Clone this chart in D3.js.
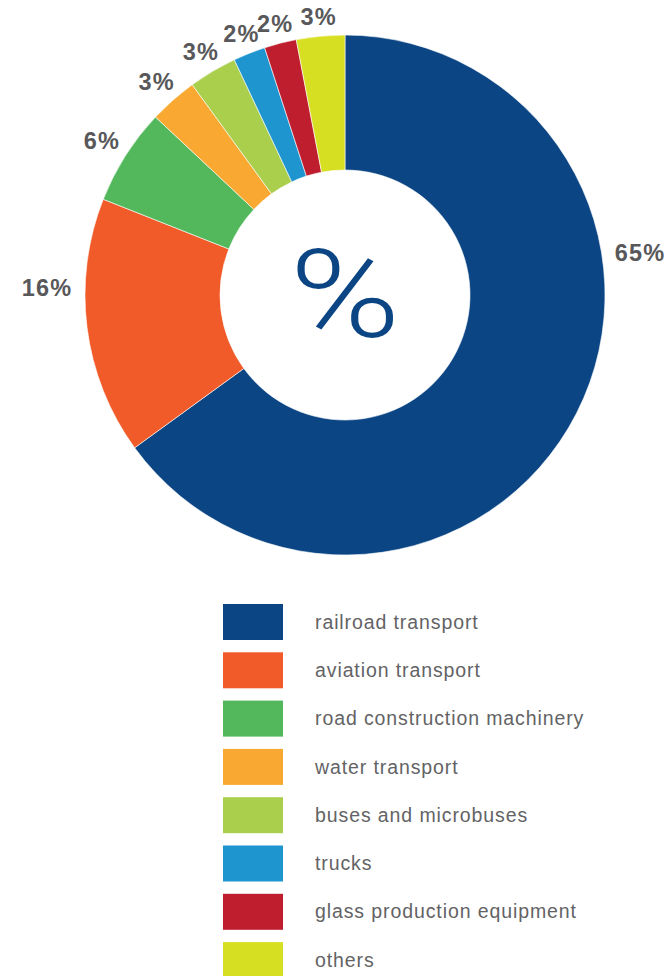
<!DOCTYPE html>
<html>
<head>
<meta charset="utf-8">
<script src="https://cdn.jsdelivr.net/npm/d3@7/dist/d3.min.js"></script>
<style>
  html, body { margin: 0; padding: 0; background: #ffffff; }
  svg { display: block; }
</style>
</head>
<body>
<svg id="chart" width="672" height="976"></svg>
<script>
// Share of each equipment group, in percent
const categories = [
  "railroad transport",
  "aviation transport",
  "road construction machinery",
  "water transport",
  "buses and microbuses",
  "trucks",
  "glass production equipment",
  "others"
];
const values = [65, 16, 6, 3, 3, 2, 2, 3];
const colors = ["#0b4584", "#f15a29", "#52b85b", "#f9a932", "#a9cf4d", "#1f95d0", "#be1e2d", "#d7df23"];
const centerSymbol = "%";

const W = 672, H = 976;
const cx = 345, cy = 295;
const outerR = 260, innerR = 125;

const svg = d3.select("#chart");
const data = categories.map((c, i) => ({ category: c, value: values[i], color: colors[i] }));

const pie = d3.pie().value(d => d.value).sort(null);
const arcs = pie(data);
const arc = d3.arc().innerRadius(innerR).outerRadius(outerR);

const g = svg.append("g").attr("transform", `translate(${cx},${cy})`);

g.selectAll("path.slice")
  .data(arcs)
  .enter().append("path")
  .attr("class", "slice")
  .attr("d", arc)
  .attr("fill", d => d.data.color)
  .attr("stroke", "#ffffff")
  .attr("stroke-width", 0.6);

// Percent labels around the ring. The two wide slices put their label
// beside the ring; the narrow ones sit at the middle of their slice,
// pushed a little further out where the text runs across the radius.
const wideLabelAngle = { 0: 81.8, 1: 271.5 };
const labelAngle = d => d.index in wideLabelAngle
  ? wideLabelAngle[d.index] * Math.PI / 180
  : (d.startAngle + d.endAngle) / 2;
const labelRadius = d => {
  if (d.index in wideLabelAngle) return 298;
  const s = Math.sin(labelAngle(d));
  return 280 + 11 * s * s;
};

g.selectAll("text.pct")
  .data(arcs)
  .enter().append("text")
  .attr("class", "pct")
  .attr("x", d => labelRadius(d) * Math.sin(labelAngle(d)))
  .attr("y", d => -labelRadius(d) * Math.cos(labelAngle(d)) + 8.5)
  .attr("text-anchor", "middle")
  .attr("font-family", "'Liberation Sans', Arial, sans-serif")
  .attr("font-weight", "bold")
  .attr("font-size", 23.5)
  .attr("letter-spacing", 1.2)
  .attr("fill", "#58585a")
  .text(d => d.data.value + "%");

// Symbol in the hole of the donut
g.append("text")
  .attr("transform", "translate(0,42) scale(1.22,1)")
  .attr("text-anchor", "middle")
  .attr("font-family", "Roboto, 'Liberation Sans', sans-serif")
  .attr("font-weight", 300)
  .attr("font-size", 123)
  .attr("fill", "#0b4584")
  .text(centerSymbol);

// Legend
const legendX = 223, legendY = 604, rowStep = 48.3;
const legend = svg.append("g");
const rows = legend.selectAll("g.row")
  .data(data)
  .enter().append("g")
  .attr("class", "row")
  .attr("transform", (d, i) => `translate(${legendX},${legendY + i * rowStep})`);

rows.append("rect")
  .attr("width", 60)
  .attr("height", 36)
  .attr("fill", d => d.color);

rows.append("text")
  .attr("x", 92)
  .attr("y", 24.7)
  .attr("font-family", "'Liberation Sans', Arial, sans-serif")
  .attr("font-size", 19.5)
  .attr("letter-spacing", 0.9)
  .attr("fill", "#636365")
  .text(d => d.category);
</script>
</body>
</html>
